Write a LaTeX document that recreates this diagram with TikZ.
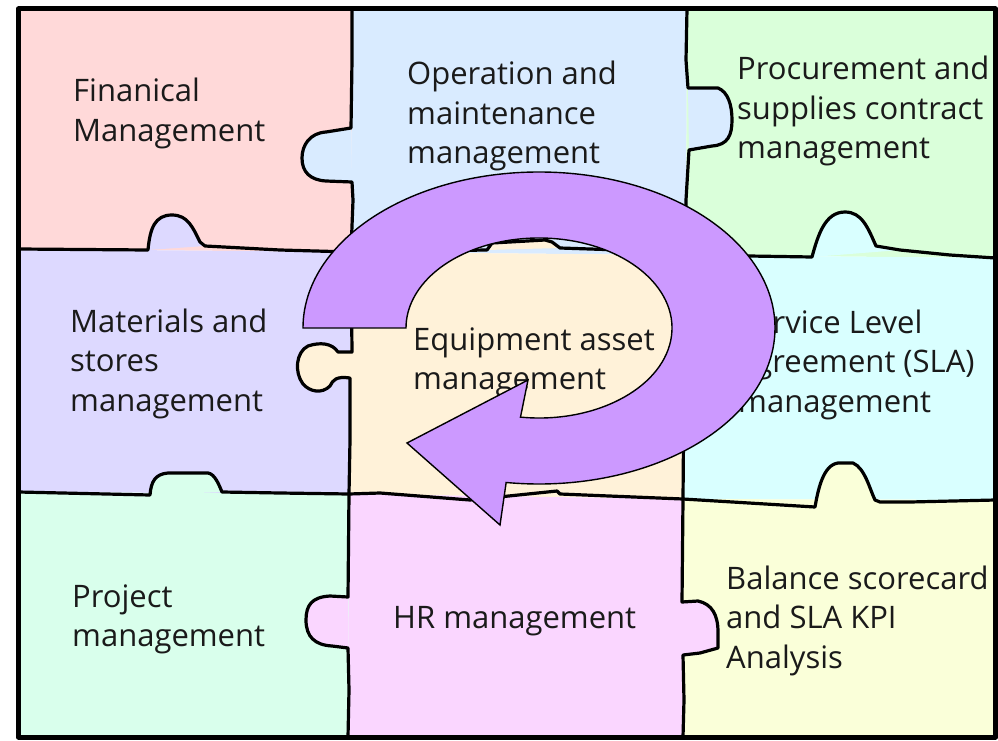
\documentclass[tikz,border=0pt]{standalone}
\usepackage{fontspec}
\setmainfont{Open Sans}
\newcommand{\plines}[1]{\vtop{\halign{##\hfil\cr #1\crcr}}}
\definecolor{cfin}{HTML}{FFD9D9}
\definecolor{cop}{HTML}{D9EBFF}
\definecolor{cproc}{HTML}{DAFFDA}
\definecolor{cmat}{HTML}{DDD9FF}
\definecolor{ceq}{HTML}{FFF2D9}
\definecolor{cserv}{HTML}{D9FFFF}
\definecolor{cproj}{HTML}{D9FFEC}
\definecolor{chr}{HTML}{FAD6FF}
\definecolor{cbal}{HTML}{FAFFD9}
\definecolor{arrowc}{HTML}{CC99FF}
\definecolor{txt}{HTML}{1A1A1A}
\begin{document}
\begin{tikzpicture}[x=1pt,y=-1pt]
\tikzset{
 seam/.style={draw=black, line width=3.2pt, line join=round, line cap=round},
 frame/.style={draw=black, line width=5pt, line join=round},
 lbl/.style={font=\fontsize{31}{39.5}\selectfont, text=txt, inner sep=0pt, anchor=base west},
 arrowband/.style={fill=arrowc, draw=black, line width=1.4pt, line join=miter},
 knobA/.style={insert path={-- (326,132) .. controls (310,133) and (302,145) .. (302,158) .. controls (302,172) and (310,180) .. (326,181) -- (352,182)}},
 knobB/.style={insert path={.. controls (150,228) and (155,215) .. (172,215) .. controls (188,215) and (193,228) .. (200,242) -- (205,246)}},
 knobC/.style={insert path={-- (718,88) .. controls (728,92) and (732,105) .. (732,120) .. controls (732,135) and (728,145) .. (712,146) -- (689,150)}},
 knobD/.style={insert path={.. controls (818,235) and (825,212) .. (845,212) .. controls (862,212) and (868,228) .. (876,246) -- (900,250)}},
 knobE/.style={insert path={-- (338,352) .. controls (332,343) and (320,342) .. (308,346) .. controls (296,352) and (294,372) .. (303,384) .. controls (310,392) and (322,394) .. (330,386) .. controls (333,380) and (336,376) .. (350,378)}},
 knobF/.style={insert path={-- (492,243) -- (545,240) -- (552,242) -- (560,248)}},
 knobG/.style={insert path={.. controls (151,482) and (155,474) .. (168,473) -- (208,473) .. controls (215,474) and (219,485) .. (222,492)}},
 knobH/.style={insert path={-- (330,596) .. controls (312,597) and (306,605) .. (306,620) .. controls (306,637) and (315,645) .. (332,646) -- (348,648)}},
 knobI/.style={insert path={-- (698,601) .. controls (712,604) and (718,615) .. (718,632) -- (718,648) -- (700,653) -- (683,655)}},
 knobJ/.style={insert path={.. controls (818,490) and (823,465) .. (838,463) -- (853,463) .. controls (865,468) and (870,490) .. (875,500) -- (880,502)}},
}
\useasboundingbox (0,0) rectangle (998,741);
\fill[white] (0,0) rectangle (998,741);
% grid junctions
\coordinate (TL) at (18.5,9); \coordinate (T1) at (352,9); \coordinate (T2) at (687,9); \coordinate (TR) at (995.5,9);
\coordinate (L1) at (18.5,249); \coordinate (J11) at (351,252); \coordinate (J12) at (686,255); \coordinate (R1) at (995.5,258);
\coordinate (L2) at (18.5,492); \coordinate (J21) at (349,494); \coordinate (J22) at (683,499); \coordinate (R2) at (995.5,500);
\coordinate (BL) at (18.5,737); \coordinate (B1) at (348,737); \coordinate (B2) at (683,737); \coordinate (BR) at (995.5,737);
% cells
\fill[cfin] (TL) -- (T1) -- (J11) -- (L1) -- cycle;
\fill[cop] (T1) -- (T2) -- (J12) -- (J11) -- cycle;
\fill[cproc] (T2) -- (TR) -- (R1) -- (J12) -- cycle;
\fill[cmat] (L1) -- (J11) -- (J21) -- (L2) -- cycle;
\fill[ceq] (J11) -- (J12) -- (J22) -- (J21) -- cycle;
\fill[cserv] (J12) -- (R1) -- (R2) -- (J22) -- cycle;
\fill[cproj] (L2) -- (J21) -- (B1) -- (BL) -- cycle;
\fill[chr] (J21) -- (J22) -- (B2) -- (B1) -- cycle;
\fill[cbal] (J22) -- (R2) -- (BR) -- (B2) -- cycle;
% knobs
\fill[cop] (351,128) [knobA] -- cycle;
\fill[cmat] (148,250) [knobB] -- cycle;
\fill[cop] (688,88) [knobC] -- cycle;
\fill[cserv] (812,257) [knobD] -- cycle;
\fill[ceq] (352,352) [knobE] -- cycle;
\fill[ceq] (487,250) [knobF] -- cycle;
\fill[cproj] (150,495) [knobG] -- cycle;
\fill[chr] (348,597) [knobH] -- cycle;
\fill[chr] (682,602) [knobI] -- cycle;
\fill[cbal] (815,507) [knobJ] -- cycle;
% seams
\draw[seam] (T1) -- (352,60) -- (351,128) [knobA] -- (353,200) -- (J11);
\draw[seam] (J11) -- (352,352) [knobE] -- (350,440) -- (J21);
\draw[seam] (J21) -- (348,597) [knobH] -- (349,690) -- (B1);
\draw[seam] (T2) -- (686,60) -- (688,88) [knobC] -- (686,200) -- (J12);
\draw[seam] (J12) -- (684,380) -- (J22);
\draw[seam] (J22) -- (682,602) [knobI] -- (684,700) -- (B2);
\draw[seam] (L1) -- (148,250) [knobB] -- (280,250) -- (J11);
\draw[seam] (J11) -- (487,250) [knobF] -- (620,250) -- (J12);
\draw[seam] (J12) -- (812,257) [knobD] -- (950,255) -- (R1);
\draw[seam] (L2) -- (150,495) [knobG] -- (280,493) -- (J21);
\draw[seam] (J21) -- (380,493) -- (470,500) -- (557,491) -- (560,494) -- (J22);
\draw[seam] (J22) -- (815,507) [knobJ] -- (910,502) -- (R2);
% labels
\node[lbl] (fin) at (73,102) {\plines{Finanical\cr Management}};
\node[lbl] (op) at (407,85) {\plines{Operation and\cr maintenance\cr management}};
\node[lbl] (proc) at (737,80) {\plines{Procurement and\cr supplies contract\cr management}};
\node[lbl] (mat) at (70,332) {\plines{Materials and\cr stores\cr management}};
\node[lbl] (eq) at (413,350) {\plines{Equipment asset\cr management}};
\node[lbl] (serv) at (738,333) {\plines{Service Level\cr agreement (SLA)\cr management}};
\node[lbl] (proj) at (72,607) {\plines{Project\cr management}};
\node[lbl] (hr) at (393,628) {HR management};
\node[lbl] (bal) at (726,589) {\plines{Balance scorecard\cr and SLA KPI\cr Analysis}};
% circular arrow
\draw[arrowband] (303,328) arc[start angle=180, end angle=458, x radius=236, y radius=156] -- (500,525) -- (407,443) -- (528,380) -- (520.49,417.12) arc[start angle=98, end angle=-180, x radius=133, y radius=90] -- cycle;
% outer frame
\draw[frame] (TL) -- (TR) -- (BR) -- (BL) -- cycle;
\end{tikzpicture}
\end{document}
